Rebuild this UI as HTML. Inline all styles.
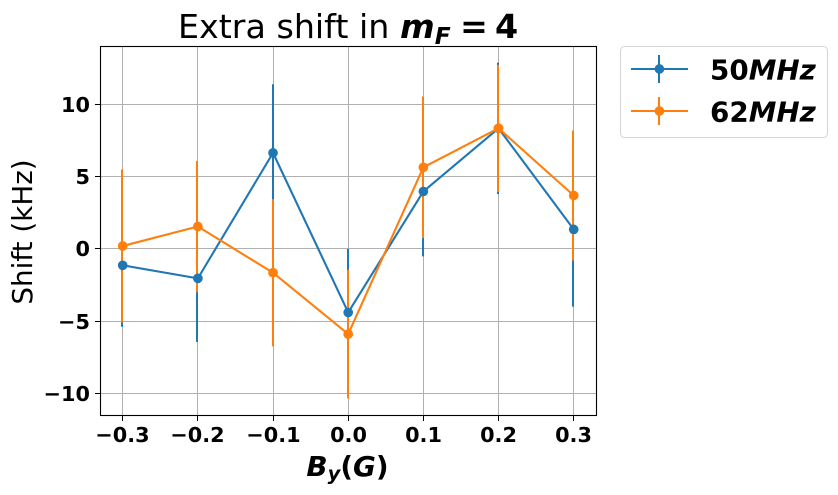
<!DOCTYPE html>
<html>
<head>
<meta charset="utf-8">
<title>Extra shift chart</title>
<style>
html,body{margin:0;padding:0;background:#fff;width:838px;height:495px;overflow:hidden}
svg{display:block;font-family:"DejaVu Sans","Liberation Sans",sans-serif}
</style>
</head>
<body>
<svg id="chart" width="838" height="495" viewBox="0 0 838 495" xmlns="http://www.w3.org/2000/svg">
  <rect width="838" height="495" fill="#fff"/>
  <g id="grid"></g>
  <g id="bars"></g>
  <g id="lines"></g>
  <rect x="100.5" y="46.5" width="496" height="369" fill="none" stroke="#000" stroke-width="1.1"/>
  <g id="ticks"></g>
  <text x="178" y="38" font-size="33.3" fill="#000">Extra shift in <tspan font-weight="bold" font-style="italic" x="400">m</tspan><tspan font-weight="bold" font-style="italic" font-size="23.3" dy="6">F</tspan><tspan font-weight="bold" dy="-6" x="460">=</tspan><tspan font-weight="bold" x="495">4</tspan></text>
  <text x="347.5" y="476" text-anchor="middle" font-size="27.8" font-weight="bold" fill="#000"><tspan font-style="italic">B</tspan><tspan font-style="italic" font-size="19.5" dy="4">y</tspan><tspan dy="-4">(</tspan><tspan font-style="italic">G</tspan>)</text>
  <text transform="translate(32 232) rotate(-90)" text-anchor="middle" font-size="27.8" fill="#000">Shift (kHz)</text>
  <g id="legend">
    <rect x="620.5" y="46.5" width="207" height="91" rx="4" fill="#fff" stroke="#d6d6d6" stroke-width="1.1"/>
  </g>
</svg>
<script>
const categories = [-0.3, -0.2, -0.1, 0.0, 0.1, 0.2, 0.3];
const values50 = [-1.14, -2.04, 6.65, -4.4, 3.98, 8.35, 1.35];
const errors50 = [4.25, 4.4, 4.75, 4.4, 4.5, 4.55, 5.35];
const values62 = [0.2, 1.55, -1.65, -5.9, 5.65, 8.35, 3.7];
const errors62 = [5.3, 4.55, 5.1, 4.45, 4.9, 4.4, 4.5];
const xTickLabels = [-0.3, -0.2, -0.1, 0.0, 0.1, 0.2, 0.3];
const yTickLabels = [-10, -5, 0, 5, 10];
const seriesNames = ['50', '62'];
const seriesColors = ['#1f77b4', '#ff7f0e'];

const NS = 'http://www.w3.org/2000/svg';
function xScale(v) { return 348.2 + v * 751.7; }
function yScale(v) { return 248.9 - v * 14.44; }
function make(tag, attrs, parent) {
  const el = document.createElementNS(NS, tag);
  for (const k in attrs) el.setAttribute(k, attrs[k]);
  parent.appendChild(el);
  return el;
}
function fmt(v, digits) {
  const s = Math.abs(v).toFixed(digits);
  return (v < 0 ? '\u2212' : '') + s;
}

const gridG = document.getElementById('grid');
const ticksG = document.getElementById('ticks');
const barsG = document.getElementById('bars');
const linesG = document.getElementById('lines');
const legendG = document.getElementById('legend');

xTickLabels.forEach(function (t) {
  const x = Math.floor(xScale(t)) + 0.5;
  const g = make('line', { x1: x, x2: x, y1: 46, y2: 415, stroke: '#b0b0b0', 'stroke-width': 1 }, gridG);
  
  
  const m = make('line', { x1: x, x2: x, y1: 415, y2: 421, stroke: '#000', 'stroke-width': 1 }, ticksG);
  
  
  const l = make('text', { x: x, y: 442, 'text-anchor': 'middle', 'font-size': 20.8, 'font-weight': 'bold', fill: '#000' }, ticksG);
  
  
  l.textContent = fmt(t, 1);
});

yTickLabels.forEach(function (t) {
  const y = Math.floor(yScale(t)) + 0.5;
  const g = make('line', { x1: 100, x2: 597, y1: y, y2: y, stroke: '#b0b0b0', 'stroke-width': 1 }, gridG);
  
  
  const m = make('line', { x1: 95, x2: 100, y1: y, y2: y, stroke: '#000', 'stroke-width': 1 }, ticksG);
  
  
  const l = make('text', { x: 90, y: y + 7.6, 'text-anchor': 'end', 'font-size': 20.8, 'font-weight': 'bold', fill: '#000' }, ticksG);
  
  
  l.textContent = fmt(t, 0);
});

const allValues = [values50, values62];
const allErrors = [errors50, errors62];

allValues.forEach(function (vals, s) {
  vals.forEach(function (v, i) {
    const x = Math.floor(xScale(categories[i]));
    const e = allErrors[s][i];
    const b = make('line', { x1: x, x2: x, y1: yScale(v + e), y2: yScale(v - e), stroke: seriesColors[s], 'stroke-width': 2 }, barsG);
    
    
  });
});

allValues.forEach(function (vals, s) {
  const pts = vals.map(function (v, i) { return xScale(categories[i]) + ',' + yScale(v); }).join(' ');
  const p = make('polyline', { points: pts, fill: 'none', stroke: seriesColors[s], 'stroke-width': 2.1, 'stroke-linejoin': 'round' }, linesG);
  
  
  vals.forEach(function (v, i) {
    const c = make('circle', { cx: xScale(categories[i]), cy: yScale(v), r: 4.85, fill: seriesColors[s] }, linesG);
    
    
  });
});

seriesNames.forEach(function (name, s) {
  const y = 69 + s * 42;
  const entry = make('g', {}, legendG);
  
  
  make('line', { x1: 631, x2: 688, y1: y, y2: y, stroke: seriesColors[s], 'stroke-width': 2 }, entry);
  make('line', { x1: 659, x2: 659, y1: y - 14, y2: y + 14, stroke: seriesColors[s], 'stroke-width': 2 }, entry);
  make('circle', { cx: 659.4, cy: y, r: 4.85, fill: seriesColors[s] }, entry);
  const t = make('text', { x: 710, y: y + 10.5, 'font-size': 27.8, 'font-weight': 'bold', fill: '#000' }, entry);
  
  
  const a = make('tspan', {}, t);
  a.textContent = name;
  const b = make('tspan', { 'font-style': 'italic' }, t);
  b.textContent = 'MHz';
});
</script>
</body>
</html>
